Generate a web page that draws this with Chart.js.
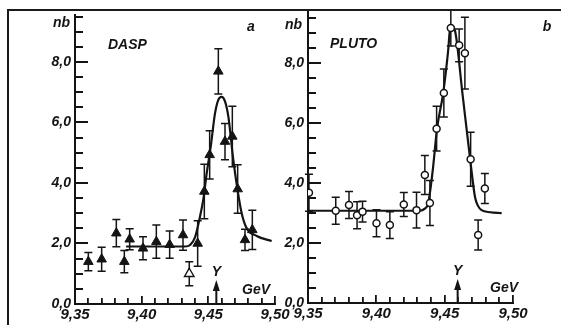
<!DOCTYPE html>
<html>
<head>
<meta charset="utf-8">
<script src="https://cdn.jsdelivr.net/npm/chart.js@4.4.1/dist/chart.umd.min.js"></script>
<style>
  html, body { margin: 0; padding: 0; background: #fff; }
  #wrap { position: relative; width: 561px; height: 325px; overflow: hidden; }
  canvas { position: absolute; top: 0; }
  #frame { position: absolute; left: 7px; top: 9px; right: -5px; bottom: -5px;
           border-top: 2px solid #1a1a1a; border-left: 2px solid #1a1a1a; pointer-events: none; }
</style>
</head>
<body>
<div id="wrap">
  <canvas id="chartA" width="300" height="325" style="left:0;width:300px;height:325px"></canvas>
  <canvas id="chartB" width="291" height="325" style="left:270px;width:291px;height:325px"></canvas>
  <div id="frame"></div>
</div>
<script>
// axis ticks (GeV / nb)
const xTickValues = [9.35, 9.36, 9.37, 9.38, 9.39, 9.40, 9.41, 9.42, 9.43, 9.44, 9.45, 9.46, 9.47, 9.48, 9.49, 9.50];
const xLabelValues = [9.35, 9.40, 9.45, 9.50];
const xTickLabels = ['9,35', '9,40', '9,45', '9,50'];
const yTickValues = [0, 0.5, 1, 1.5, 2, 2.5, 3, 3.5, 4, 4.5, 5, 5.5, 6, 6.5, 7, 7.5, 8, 8.5, 9, 9.5];
const yLabelValues = [0, 2, 4, 6, 8];
const yTickLabels = ['0,0', '2,0', '4,0', '6,0', '8,0'];

// panel a - DASP
const daspEnergy = [9.360, 9.370, 9.381, 9.387, 9.391, 9.401, 9.411, 9.421, 9.431, 9.442, 9.447, 9.451, 9.4575, 9.4625, 9.468, 9.472, 9.4775, 9.483];
const daspSigma  = [1.40, 1.48, 2.34, 1.40, 2.14, 1.84, 2.06, 1.96, 2.28, 2.00, 3.72, 4.93, 7.69, 5.37, 5.54, 3.80, 2.12, 2.45];
const daspError  = [0.30, 0.40, 0.45, 0.37, 0.35, 0.38, 0.55, 0.45, 0.50, 0.75, 0.90, 0.80, 0.75, 0.60, 1.00, 0.80, 0.35, 0.65];
const daspOpenEnergy = [9.4357];
const daspOpenSigma  = [1.00];
const daspOpenError  = [0.40];
const daspFitEnergy = [9.3883, 9.4325, 9.4363, 9.440, 9.4438, 9.4462, 9.4488, 9.4518, 9.455, 9.4575, 9.460, 9.4625, 9.465, 9.4687, 9.4717, 9.475, 9.4788, 9.4863, 9.4975];
const daspFitSigma  = [1.90, 1.90, 1.95, 2.20, 2.90, 3.45, 4.33, 5.20, 6.30, 6.75, 6.85, 6.70, 6.20, 4.77, 3.83, 3.00, 2.50, 2.25, 2.08];
const daspArrow = 9.456;

// panel b - PLUTO
const plutoEnergy = [9.3507, 9.3703, 9.380, 9.3859, 9.3899, 9.4001, 9.4099, 9.4201, 9.4294, 9.4355, 9.4392, 9.4441, 9.4494, 9.4545, 9.4606, 9.4648, 9.469, 9.4745, 9.4794];
const plutoSigma  = [3.68, 3.08, 3.27, 2.93, 3.05, 2.66, 2.60, 3.29, 3.10, 4.27, 3.34, 5.82, 7.01, 9.18, 8.60, 8.34, 4.80, 2.27, 3.82];
const plutoError  = [0.62, 0.45, 0.45, 0.45, 0.35, 0.45, 0.45, 0.40, 0.60, 0.65, 0.75, 0.75, 0.80, 0.60, 0.55, 1.20, 0.90, 0.50, 0.50];
const plutoFitEnergy = [9.3507, 9.400, 9.4318, 9.4355, 9.4379, 9.4412, 9.4445, 9.4489, 9.4525, 9.4543, 9.4575, 9.463, 9.4685, 9.4722, 9.4743, 9.477, 9.4833, 9.4917];
const plutoFitSigma  = [3.08, 3.08, 3.08, 3.15, 3.32, 4.40, 5.85, 7.00, 8.40, 9.28, 9.10, 7.00, 4.85, 3.54, 3.25, 3.10, 3.03, 3.00];
const plutoArrow = 9.4595;

const ink = '#141414';
const face = '"Liberation Sans", Arial, sans-serif';

const pts = (xs, ys) => xs.map((x, i) => ({ x, y: ys[i] }));
const near = (list, v) => list.findIndex(u => Math.abs(u - v) < 1e-6);

// vertical error bars with caps, drawn under the markers
const errorBars = {
    id: 'errorBars',
    beforeDatasetsDraw(chart) {
        const { ctx, scales: { x, y } } = chart;
        ctx.save();
        ctx.strokeStyle = ink;
        ctx.lineWidth = 1.5;
        chart.data.datasets.forEach(ds => {
            if (!ds.errors) return;
            ds.data.forEach((p, i) => {
                const e = ds.errors[i];
                const px = x.getPixelForValue(p.x);
                const top = y.getPixelForValue(p.y + e);
                const bot = y.getPixelForValue(p.y - e);
                ctx.beginPath();
                ctx.moveTo(px, top); ctx.lineTo(px, bot);
                ctx.moveTo(px - 4, top); ctx.lineTo(px + 4, top);
                ctx.moveTo(px - 4, bot); ctx.lineTo(px + 4, bot);
                ctx.stroke();
            });
        });
        ctx.restore();
    }
};

// inward tick marks, texts and the Upsilon arrow
const decor = {
    id: 'decor',
    afterDraw(chart, args, opts) {
        const { ctx, scales: { x, y } } = chart;
        const left = x.left;
        const bottom = y.bottom;
        ctx.save();
        ctx.fillStyle = ink;

        yTickValues.filter(v => v <= y.max).forEach(v => {
            const py = Math.round(y.getPixelForValue(v));
            const len = near(yLabelValues, v) >= 0 ? 13 : 8;
            ctx.fillRect(left, py - 1, len, 2);
        });
        xTickValues.forEach(v => {
            const px = Math.round(x.getPixelForValue(v));
            const len = near(xLabelValues, v) >= 0 ? 8 : 6;
            ctx.fillRect(px - 1, bottom - len, 1.8, len);
        });

        // arrow at the Upsilon mass
        const ax = x.getPixelForValue(opts.arrowAt);
        ctx.fillRect(ax - 1, bottom - 16, 2, 15);
        ctx.beginPath();
        ctx.moveTo(ax, bottom - 24);
        ctx.lineTo(ax - 3.5, bottom - 13);
        ctx.lineTo(ax + 3.5, bottom - 13);
        ctx.closePath();
        ctx.fill();

        ctx.font = 'bold italic 14px ' + face;
        ctx.textBaseline = 'middle';
        ctx.textAlign = 'center';
        ctx.fillText('Υ', ax, bottom - 32);
        opts.texts.forEach(t => {
            ctx.textAlign = t.align || 'left';
            ctx.fillText(t.text, t.x, t.y);
        });
        ctx.restore();
    }
};

function makePanel(id, cfg) {
    const markers = cfg.markers.map(m => ({
        data: m.data,
        errors: m.errors,
        showLine: false,
        pointStyle: m.style,
        pointRadius: m.radius,
        pointBackgroundColor: m.fill,
        pointBorderColor: ink,
        pointBorderWidth: m.border
    }));
    return new Chart(document.getElementById(id), {
        type: 'scatter',
        data: {
            datasets: [
                ...markers,
                {
                    data: cfg.fit,
                    showLine: true,
                    borderColor: ink,
                    borderWidth: 2.2,
                    pointRadius: 0,
                    cubicInterpolationMode: 'monotone'
                }
            ]
        },
        options: {
            responsive: false,
            animation: false,
            layout: { padding: cfg.padding },
            plugins: {
                legend: { display: false },
                tooltip: { enabled: false },
                decor: { texts: cfg.texts, arrowAt: cfg.arrowAt }
            },
            scales: {
                x: {
                    type: 'linear',
                    min: 9.35,
                    max: 9.50,
                    afterFit: s => { s.height = cfg.xHeight; },
                    afterBuildTicks: s => { s.ticks = xTickValues.map(v => ({ value: v })); },
                    grid: { display: false, drawTicks: false },
                    border: { color: ink, width: 2 },
                    ticks: {
                        autoSkip: false, maxRotation: 0, padding: 2, color: ink,
                        font: { family: face, size: 15, style: 'italic', weight: 'bold' },
                        callback: v => { const i = near(xLabelValues, v); return i >= 0 ? xTickLabels[i] : ''; }
                    }
                },
                y: {
                    min: 0,
                    max: cfg.yMax,
                    afterFit: s => { s.width = cfg.yWidth; },
                    afterBuildTicks: s => { s.ticks = yTickValues.filter(v => v <= cfg.yMax).map(v => ({ value: v })); },
                    grid: { display: false, drawTicks: false },
                    border: { color: ink, width: 2 },
                    ticks: {
                        autoSkip: false, padding: 4, color: ink,
                        font: { family: face, size: 14, style: 'italic', weight: 'bold' },
                        callback: v => { const i = near(yLabelValues, v); return i >= 0 ? yTickLabels[i] : ''; }
                    }
                }
            }
        },
        plugins: [errorBars, decor]
    });
}

makePanel('chartA', {
    padding: { top: 14.5, right: 25, bottom: 0, left: 0 },
    yWidth: 75, xHeight: 21, yMax: 9.57,
    arrowAt: daspArrow,
    markers: [
        { data: pts(daspEnergy, daspSigma), errors: daspError, style: 'triangle', radius: 5.5, fill: ink, border: 1 },
        { data: pts(daspOpenEnergy, daspOpenSigma), errors: daspOpenError, style: 'triangle', radius: 5.5, fill: '#fff', border: 1.4 }
    ],
    fit: pts(daspFitEnergy, daspFitSigma),
    texts: [
        { text: 'nb', x: 70, y: 23, align: 'right' },
        { text: 'DASP', x: 108, y: 45 },
        { text: 'a', x: 251, y: 27, align: 'center' },
        { text: 'GeV', x: 242, y: 290 }
    ]
});

makePanel('chartB', {
    padding: { top: 12, right: 48, bottom: 0, left: 0 },
    yWidth: 38, xHeight: 22, yMax: 9.7,
    arrowAt: plutoArrow,
    markers: [
        { data: pts(plutoEnergy, plutoSigma), errors: plutoError, style: 'circle', radius: 3.5, fill: '#fff', border: 1.5 }
    ],
    fit: pts(plutoFitEnergy, plutoFitSigma),
    texts: [
        { text: 'nb', x: 32, y: 25, align: 'right' },
        { text: 'PLUTO', x: 60, y: 44 },
        { text: 'b', x: 277, y: 27, align: 'center' },
        { text: 'GeV', x: 220, y: 288 }
    ]
});
</script>
</body>
</html>
